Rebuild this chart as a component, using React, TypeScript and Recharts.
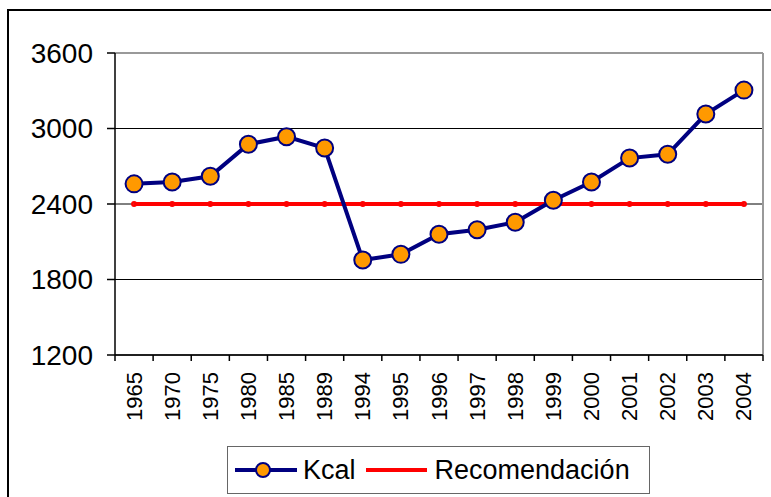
import {
  CartesianGrid,
  Line,
  LineChart,
  ReferenceLine,
  XAxis,
  YAxis,
} from "recharts";

const years = [
  "1965", "1970", "1975", "1980", "1985", "1989", "1994", "1995", "1996",
  "1997", "1998", "1999", "2000", "2001", "2002", "2003", "2004",
];
const kcal = [
  2560, 2575, 2620, 2875, 2935, 2845, 1955, 2000, 2160, 2195, 2255, 2430,
  2575, 2765, 2795, 3115, 3305,
];
const recomendacion = [
  2400, 2400, 2400, 2400, 2400, 2400, 2400, 2400, 2400, 2400, 2400, 2400,
  2400, 2400, 2400, 2400, 2400,
];
const yTicks = [1200, 1800, 2400, 3000, 3600];
// tick marks sit between categories, like Excel
const xBoundaries = years.map((_, i) => i - 0.5).concat(years.length - 0.5);

const data = years.map((y, i) => ({
  i,
  year: y,
  kcal: kcal[i],
  rec: recomendacion[i],
}));

const FONT = "'Liberation Sans', Arial, sans-serif";
const NAVY = "#000080";
const ORANGE = "#FF9900";
const RED = "#FF0000";

const CHART_W = 771;
const PLOT_LEFT = 115;
const PLOT_RIGHT = 763;
const HALF_BAND = (PLOT_RIGHT - PLOT_LEFT) / years.length / 2;

function YearTick(props: any) {
  const { x, y, payload } = props;
  const idx = payload.value + 0.5;
  if (idx < 0 || idx >= years.length) return null;
  return (
    <text
      transform={`translate(${x + HALF_BAND},${y}) rotate(-90)`}
      textAnchor="end"
      dominantBaseline="central"
      fontFamily={FONT}
      fontSize={22}
      fill="#000"
    >
      {years[idx]}
    </text>
  );
}

function LegendBox() {
  return (
    <div
      style={{
        position: "absolute",
        left: 227,
        top: 446,
        width: 421,
        height: 46,
        border: "1px solid #666",
        background: "#fff",
        display: "flex",
        alignItems: "center",
        fontFamily: FONT,
        fontSize: 27,
        color: "#000",
      }}
    >
      <svg width={62} height={20} style={{ marginLeft: 7 }}>
        <line x1={0} y1={10} x2={62} y2={10} stroke={NAVY} strokeWidth={4} />
        <circle cx={28} cy={10} r={7} fill={ORANGE} stroke={NAVY} strokeWidth={2} />
      </svg>
      <span style={{ marginLeft: 6 }}>Kcal</span>
      <svg width={61} height={20} style={{ marginLeft: 10 }}>
        <line x1={0} y1={10} x2={61} y2={10} stroke={RED} strokeWidth={4} />
      </svg>
      <span style={{ marginLeft: 8 }}>Recomendación</span>
    </div>
  );
}

export default function App() {
  return (
    <div
      style={{
        position: "fixed",
        left: 0,
        top: 0,
        width: CHART_W,
        height: 497,
        background: "#fff",
        overflow: "hidden",
      }}
    >
      <div
        style={{
          position: "absolute",
          left: 7,
          top: 9,
          width: 800,
          height: 520,
          borderLeft: "2px solid #000",
          borderTop: "2px solid #000",
        }}
      />
      <div style={{ position: "absolute", left: 0, top: 0 }}>
        <LineChart
          width={CHART_W}
          height={497}
          data={data}
          margin={{ top: 53, right: CHART_W - PLOT_RIGHT, bottom: 72, left: 0 }}
        >
          <CartesianGrid horizontal vertical={false} stroke="#000" strokeWidth={1} />
          <XAxis
            dataKey="i"
            type="number"
            domain={[-0.5, years.length - 0.5]}
            ticks={xBoundaries}
            interval={0}
            height={70}
            stroke="#000"
            strokeWidth={1.5}
            tickSize={6}
            tickMargin={11}
            tick={<YearTick />}
          />
          <YAxis
            domain={[1200, 3600]}
            ticks={yTicks}
            width={PLOT_LEFT}
            stroke="#000"
            strokeWidth={1.5}
            tickSize={8}
            tickMargin={14}
            tick={{ fill: "#000", fontSize: 28, fontFamily: FONT }}
          />
          <ReferenceLine y={3600} stroke="#999" strokeWidth={2} />
          <ReferenceLine x={years.length - 0.5} stroke="#999" strokeWidth={2} />
          <Line
            dataKey="rec"
            name="Recomendación"
            stroke={RED}
            strokeWidth={4}
            dot={{ r: 1, fill: RED, stroke: RED }}
            isAnimationActive={false}
          />
          <Line
            dataKey="kcal"
            name="Kcal"
            stroke={NAVY}
            strokeWidth={4}
            dot={{ r: 8.5, fill: ORANGE, stroke: NAVY, strokeWidth: 2 }}
            isAnimationActive={false}
          />
        </LineChart>
      </div>
      <LegendBox />
    </div>
  );
}
